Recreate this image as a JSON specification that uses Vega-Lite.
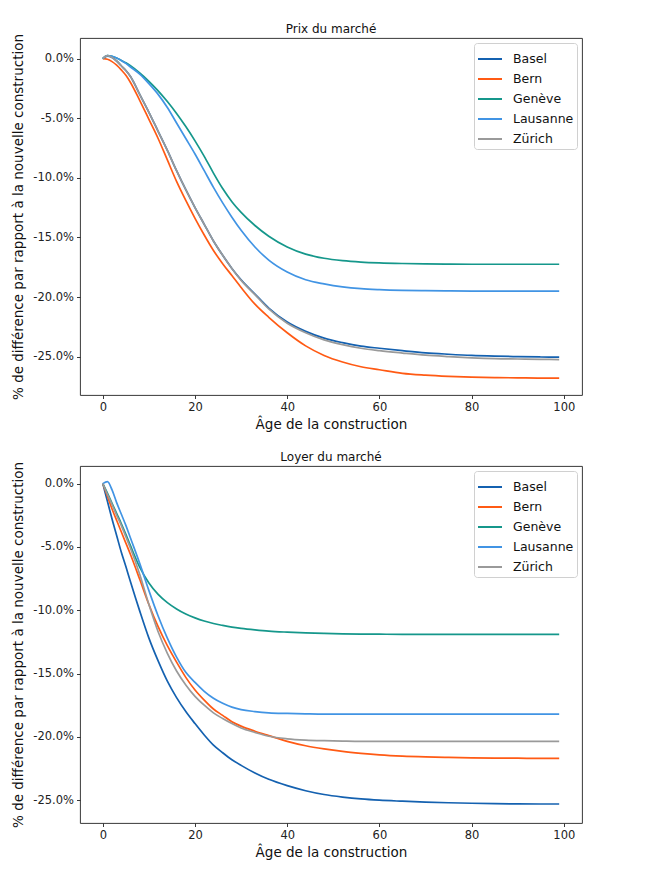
{
 "$schema": "https://vega.github.io/schema/vega-lite/v6.json",
 "background": "white",
 "padding": {"left": 11, "top": 22, "right": 5, "bottom": 5},
 "spacing": 71,
 "bounds": "flush",
 "datasets": {"d": [
{"panel":"Prix","ville":"Basel","age":0,"pct":0},{"panel":"Prix","ville":"Basel","age":1,"pct":0.2},{"panel":"Prix","ville":"Basel","age":2,"pct":0.1},{"panel":"Prix","ville":"Basel","age":3,"pct":-0.2},{"panel":"Prix","ville":"Basel","age":4,"pct":-0.6},{"panel":"Prix","ville":"Basel","age":5,"pct":-1.0},{"panel":"Prix","ville":"Basel","age":6,"pct":-1.5},{"panel":"Prix","ville":"Basel","age":8,"pct":-3.0},{"panel":"Prix","ville":"Basel","age":10,"pct":-4.5},{"panel":"Prix","ville":"Basel","age":12,"pct":-6.1},{"panel":"Prix","ville":"Basel","age":14,"pct":-7.7},{"panel":"Prix","ville":"Basel","age":16,"pct":-9.4},{"panel":"Prix","ville":"Basel","age":18,"pct":-11.0},{"panel":"Prix","ville":"Basel","age":20,"pct":-12.5},{"panel":"Prix","ville":"Basel","age":22,"pct":-13.9},{"panel":"Prix","ville":"Basel","age":24,"pct":-15.3},{"panel":"Prix","ville":"Basel","age":26,"pct":-16.5},{"panel":"Prix","ville":"Basel","age":28,"pct":-17.6},{"panel":"Prix","ville":"Basel","age":30,"pct":-18.55},{"panel":"Prix","ville":"Basel","age":33,"pct":-19.75},{"panel":"Prix","ville":"Basel","age":36,"pct":-20.93},{"panel":"Prix","ville":"Basel","age":40,"pct":-22.1},{"panel":"Prix","ville":"Basel","age":44,"pct":-22.88},{"panel":"Prix","ville":"Basel","age":48,"pct":-23.45},{"panel":"Prix","ville":"Basel","age":52,"pct":-23.83},{"panel":"Prix","ville":"Basel","age":56,"pct":-24.12},{"panel":"Prix","ville":"Basel","age":60,"pct":-24.3},{"panel":"Prix","ville":"Basel","age":65,"pct":-24.5},{"panel":"Prix","ville":"Basel","age":70,"pct":-24.68},{"panel":"Prix","ville":"Basel","age":75,"pct":-24.8},{"panel":"Prix","ville":"Basel","age":80,"pct":-24.9},{"panel":"Prix","ville":"Basel","age":85,"pct":-24.96},{"panel":"Prix","ville":"Basel","age":90,"pct":-25.0},{"panel":"Prix","ville":"Basel","age":95,"pct":-25.03},{"panel":"Prix","ville":"Basel","age":99,"pct":-25.05},
{"panel":"Prix","ville":"Bern","age":0,"pct":0},{"panel":"Prix","ville":"Bern","age":1,"pct":-0.05},{"panel":"Prix","ville":"Bern","age":2,"pct":-0.25},{"panel":"Prix","ville":"Bern","age":3,"pct":-0.55},{"panel":"Prix","ville":"Bern","age":4,"pct":-0.95},{"panel":"Prix","ville":"Bern","age":5,"pct":-1.4},{"panel":"Prix","ville":"Bern","age":6,"pct":-2.0},{"panel":"Prix","ville":"Bern","age":8,"pct":-3.5},{"panel":"Prix","ville":"Bern","age":10,"pct":-5.1},{"panel":"Prix","ville":"Bern","age":12,"pct":-6.7},{"panel":"Prix","ville":"Bern","age":14,"pct":-8.5},{"panel":"Prix","ville":"Bern","age":16,"pct":-10.3},{"panel":"Prix","ville":"Bern","age":18,"pct":-11.9},{"panel":"Prix","ville":"Bern","age":20,"pct":-13.4},{"panel":"Prix","ville":"Bern","age":22,"pct":-14.8},{"panel":"Prix","ville":"Bern","age":24,"pct":-16.1},{"panel":"Prix","ville":"Bern","age":26,"pct":-17.2},{"panel":"Prix","ville":"Bern","age":28,"pct":-18.2},{"panel":"Prix","ville":"Bern","age":30,"pct":-19.2},{"panel":"Prix","ville":"Bern","age":33,"pct":-20.6},{"panel":"Prix","ville":"Bern","age":36,"pct":-21.7},{"panel":"Prix","ville":"Bern","age":40,"pct":-23.0},{"panel":"Prix","ville":"Bern","age":44,"pct":-24.1},{"panel":"Prix","ville":"Bern","age":48,"pct":-24.9},{"panel":"Prix","ville":"Bern","age":52,"pct":-25.45},{"panel":"Prix","ville":"Bern","age":56,"pct":-25.85},{"panel":"Prix","ville":"Bern","age":60,"pct":-26.1},{"panel":"Prix","ville":"Bern","age":65,"pct":-26.4},{"panel":"Prix","ville":"Bern","age":70,"pct":-26.55},{"panel":"Prix","ville":"Bern","age":75,"pct":-26.65},{"panel":"Prix","ville":"Bern","age":80,"pct":-26.72},{"panel":"Prix","ville":"Bern","age":85,"pct":-26.76},{"panel":"Prix","ville":"Bern","age":90,"pct":-26.78},{"panel":"Prix","ville":"Bern","age":95,"pct":-26.8},{"panel":"Prix","ville":"Bern","age":99,"pct":-26.8},
{"panel":"Prix","ville":"Genève","age":0,"pct":0},{"panel":"Prix","ville":"Genève","age":1,"pct":0.25},{"panel":"Prix","ville":"Genève","age":2,"pct":0.2},{"panel":"Prix","ville":"Genève","age":3,"pct":0.05},{"panel":"Prix","ville":"Genève","age":4,"pct":-0.15},{"panel":"Prix","ville":"Genève","age":5,"pct":-0.35},{"panel":"Prix","ville":"Genève","age":6,"pct":-0.6},{"panel":"Prix","ville":"Genève","age":8,"pct":-1.2},{"panel":"Prix","ville":"Genève","age":10,"pct":-1.9},{"panel":"Prix","ville":"Genève","age":12,"pct":-2.7},{"panel":"Prix","ville":"Genève","age":14,"pct":-3.6},{"panel":"Prix","ville":"Genève","age":16,"pct":-4.6},{"panel":"Prix","ville":"Genève","age":18,"pct":-5.7},{"panel":"Prix","ville":"Genève","age":20,"pct":-6.9},{"panel":"Prix","ville":"Genève","age":22,"pct":-8.2},{"panel":"Prix","ville":"Genève","age":24,"pct":-9.6},{"panel":"Prix","ville":"Genève","age":26,"pct":-10.9},{"panel":"Prix","ville":"Genève","age":28,"pct":-12.0},{"panel":"Prix","ville":"Genève","age":30,"pct":-12.9},{"panel":"Prix","ville":"Genève","age":33,"pct":-14.0},{"panel":"Prix","ville":"Genève","age":36,"pct":-14.9},{"panel":"Prix","ville":"Genève","age":40,"pct":-15.8},{"panel":"Prix","ville":"Genève","age":44,"pct":-16.4},{"panel":"Prix","ville":"Genève","age":48,"pct":-16.75},{"panel":"Prix","ville":"Genève","age":52,"pct":-16.95},{"panel":"Prix","ville":"Genève","age":56,"pct":-17.07},{"panel":"Prix","ville":"Genève","age":60,"pct":-17.14},{"panel":"Prix","ville":"Genève","age":65,"pct":-17.19},{"panel":"Prix","ville":"Genève","age":70,"pct":-17.22},{"panel":"Prix","ville":"Genève","age":75,"pct":-17.24},{"panel":"Prix","ville":"Genève","age":80,"pct":-17.25},{"panel":"Prix","ville":"Genève","age":85,"pct":-17.25},{"panel":"Prix","ville":"Genève","age":90,"pct":-17.25},{"panel":"Prix","ville":"Genève","age":95,"pct":-17.25},{"panel":"Prix","ville":"Genève","age":99,"pct":-17.25},
{"panel":"Prix","ville":"Lausanne","age":0,"pct":0},{"panel":"Prix","ville":"Lausanne","age":1,"pct":0.25},{"panel":"Prix","ville":"Lausanne","age":2,"pct":0.2},{"panel":"Prix","ville":"Lausanne","age":3,"pct":0.05},{"panel":"Prix","ville":"Lausanne","age":4,"pct":-0.15},{"panel":"Prix","ville":"Lausanne","age":5,"pct":-0.4},{"panel":"Prix","ville":"Lausanne","age":6,"pct":-0.7},{"panel":"Prix","ville":"Lausanne","age":8,"pct":-1.3},{"panel":"Prix","ville":"Lausanne","age":10,"pct":-2.1},{"panel":"Prix","ville":"Lausanne","age":12,"pct":-3.0},{"panel":"Prix","ville":"Lausanne","age":14,"pct":-4.1},{"panel":"Prix","ville":"Lausanne","age":16,"pct":-5.4},{"panel":"Prix","ville":"Lausanne","age":18,"pct":-6.7},{"panel":"Prix","ville":"Lausanne","age":20,"pct":-8.0},{"panel":"Prix","ville":"Lausanne","age":22,"pct":-9.4},{"panel":"Prix","ville":"Lausanne","age":24,"pct":-10.8},{"panel":"Prix","ville":"Lausanne","age":26,"pct":-12.1},{"panel":"Prix","ville":"Lausanne","age":28,"pct":-13.3},{"panel":"Prix","ville":"Lausanne","age":30,"pct":-14.4},{"panel":"Prix","ville":"Lausanne","age":33,"pct":-15.8},{"panel":"Prix","ville":"Lausanne","age":36,"pct":-16.9},{"panel":"Prix","ville":"Lausanne","age":40,"pct":-17.9},{"panel":"Prix","ville":"Lausanne","age":44,"pct":-18.55},{"panel":"Prix","ville":"Lausanne","age":48,"pct":-18.9},{"panel":"Prix","ville":"Lausanne","age":52,"pct":-19.15},{"panel":"Prix","ville":"Lausanne","age":56,"pct":-19.3},{"panel":"Prix","ville":"Lausanne","age":60,"pct":-19.38},{"panel":"Prix","ville":"Lausanne","age":65,"pct":-19.44},{"panel":"Prix","ville":"Lausanne","age":70,"pct":-19.47},{"panel":"Prix","ville":"Lausanne","age":75,"pct":-19.49},{"panel":"Prix","ville":"Lausanne","age":80,"pct":-19.5},{"panel":"Prix","ville":"Lausanne","age":85,"pct":-19.5},{"panel":"Prix","ville":"Lausanne","age":90,"pct":-19.5},{"panel":"Prix","ville":"Lausanne","age":95,"pct":-19.5},{"panel":"Prix","ville":"Lausanne","age":99,"pct":-19.5},
{"panel":"Prix","ville":"Zürich","age":0,"pct":0},{"panel":"Prix","ville":"Zürich","age":1,"pct":0.25},{"panel":"Prix","ville":"Zürich","age":2,"pct":0.1},{"panel":"Prix","ville":"Zürich","age":3,"pct":-0.2},{"panel":"Prix","ville":"Zürich","age":4,"pct":-0.6},{"panel":"Prix","ville":"Zürich","age":5,"pct":-1.0},{"panel":"Prix","ville":"Zürich","age":6,"pct":-1.5},{"panel":"Prix","ville":"Zürich","age":8,"pct":-3.0},{"panel":"Prix","ville":"Zürich","age":10,"pct":-4.5},{"panel":"Prix","ville":"Zürich","age":12,"pct":-6.1},{"panel":"Prix","ville":"Zürich","age":14,"pct":-7.7},{"panel":"Prix","ville":"Zürich","age":16,"pct":-9.4},{"panel":"Prix","ville":"Zürich","age":18,"pct":-11.0},{"panel":"Prix","ville":"Zürich","age":20,"pct":-12.5},{"panel":"Prix","ville":"Zürich","age":22,"pct":-13.9},{"panel":"Prix","ville":"Zürich","age":24,"pct":-15.3},{"panel":"Prix","ville":"Zürich","age":26,"pct":-16.5},{"panel":"Prix","ville":"Zürich","age":28,"pct":-17.6},{"panel":"Prix","ville":"Zürich","age":30,"pct":-18.6},{"panel":"Prix","ville":"Zürich","age":33,"pct":-19.8},{"panel":"Prix","ville":"Zürich","age":36,"pct":-21.0},{"panel":"Prix","ville":"Zürich","age":40,"pct":-22.2},{"panel":"Prix","ville":"Zürich","age":44,"pct":-23.0},{"panel":"Prix","ville":"Zürich","age":48,"pct":-23.6},{"panel":"Prix","ville":"Zürich","age":52,"pct":-24.0},{"panel":"Prix","ville":"Zürich","age":56,"pct":-24.3},{"panel":"Prix","ville":"Zürich","age":60,"pct":-24.5},{"panel":"Prix","ville":"Zürich","age":65,"pct":-24.7},{"panel":"Prix","ville":"Zürich","age":70,"pct":-24.88},{"panel":"Prix","ville":"Zürich","age":75,"pct":-25.0},{"panel":"Prix","ville":"Zürich","age":80,"pct":-25.1},{"panel":"Prix","ville":"Zürich","age":85,"pct":-25.17},{"panel":"Prix","ville":"Zürich","age":90,"pct":-25.2},{"panel":"Prix","ville":"Zürich","age":95,"pct":-25.23},{"panel":"Prix","ville":"Zürich","age":99,"pct":-25.25},
{"panel":"Loyer","ville":"Basel","age":0,"pct":0},{"panel":"Loyer","ville":"Basel","age":1,"pct":-1.4},{"panel":"Loyer","ville":"Basel","age":2,"pct":-2.8},{"panel":"Loyer","ville":"Basel","age":3,"pct":-4.1},{"panel":"Loyer","ville":"Basel","age":4,"pct":-5.4},{"panel":"Loyer","ville":"Basel","age":5,"pct":-6.55},{"panel":"Loyer","ville":"Basel","age":6,"pct":-7.75},{"panel":"Loyer","ville":"Basel","age":8,"pct":-10.05},{"panel":"Loyer","ville":"Basel","age":10,"pct":-12.2},{"panel":"Loyer","ville":"Basel","age":12,"pct":-14.0},{"panel":"Loyer","ville":"Basel","age":14,"pct":-15.6},{"panel":"Loyer","ville":"Basel","age":16,"pct":-16.9},{"panel":"Loyer","ville":"Basel","age":18,"pct":-18.0},{"panel":"Loyer","ville":"Basel","age":20,"pct":-18.95},{"panel":"Loyer","ville":"Basel","age":22,"pct":-19.85},{"panel":"Loyer","ville":"Basel","age":24,"pct":-20.65},{"panel":"Loyer","ville":"Basel","age":26,"pct":-21.25},{"panel":"Loyer","ville":"Basel","age":28,"pct":-21.8},{"panel":"Loyer","ville":"Basel","age":30,"pct":-22.25},{"panel":"Loyer","ville":"Basel","age":33,"pct":-22.85},{"panel":"Loyer","ville":"Basel","age":36,"pct":-23.35},{"panel":"Loyer","ville":"Basel","age":40,"pct":-23.85},{"panel":"Loyer","ville":"Basel","age":44,"pct":-24.25},{"panel":"Loyer","ville":"Basel","age":48,"pct":-24.55},{"panel":"Loyer","ville":"Basel","age":52,"pct":-24.75},{"panel":"Loyer","ville":"Basel","age":56,"pct":-24.9},{"panel":"Loyer","ville":"Basel","age":60,"pct":-25.0},{"panel":"Loyer","ville":"Basel","age":65,"pct":-25.08},{"panel":"Loyer","ville":"Basel","age":70,"pct":-25.15},{"panel":"Loyer","ville":"Basel","age":75,"pct":-25.2},{"panel":"Loyer","ville":"Basel","age":80,"pct":-25.24},{"panel":"Loyer","ville":"Basel","age":85,"pct":-25.27},{"panel":"Loyer","ville":"Basel","age":90,"pct":-25.29},{"panel":"Loyer","ville":"Basel","age":95,"pct":-25.3},{"panel":"Loyer","ville":"Basel","age":99,"pct":-25.3},
{"panel":"Loyer","ville":"Bern","age":0,"pct":0},{"panel":"Loyer","ville":"Bern","age":1,"pct":-1.0},{"panel":"Loyer","ville":"Bern","age":2,"pct":-2.0},{"panel":"Loyer","ville":"Bern","age":3,"pct":-2.9},{"panel":"Loyer","ville":"Bern","age":4,"pct":-3.8},{"panel":"Loyer","ville":"Bern","age":5,"pct":-4.7},{"panel":"Loyer","ville":"Bern","age":6,"pct":-5.6},{"panel":"Loyer","ville":"Bern","age":8,"pct":-7.55},{"panel":"Loyer","ville":"Bern","age":10,"pct":-9.55},{"panel":"Loyer","ville":"Bern","age":12,"pct":-11.3},{"panel":"Loyer","ville":"Bern","age":14,"pct":-12.8},{"panel":"Loyer","ville":"Bern","age":16,"pct":-14.1},{"panel":"Loyer","ville":"Bern","age":18,"pct":-15.3},{"panel":"Loyer","ville":"Bern","age":20,"pct":-16.3},{"panel":"Loyer","ville":"Bern","age":22,"pct":-17.1},{"panel":"Loyer","ville":"Bern","age":24,"pct":-17.8},{"panel":"Loyer","ville":"Bern","age":26,"pct":-18.3},{"panel":"Loyer","ville":"Bern","age":28,"pct":-18.8},{"panel":"Loyer","ville":"Bern","age":30,"pct":-19.15},{"panel":"Loyer","ville":"Bern","age":33,"pct":-19.55},{"panel":"Loyer","ville":"Bern","age":36,"pct":-19.9},{"panel":"Loyer","ville":"Bern","age":40,"pct":-20.35},{"panel":"Loyer","ville":"Bern","age":44,"pct":-20.7},{"panel":"Loyer","ville":"Bern","age":48,"pct":-20.95},{"panel":"Loyer","ville":"Bern","age":52,"pct":-21.15},{"panel":"Loyer","ville":"Bern","age":56,"pct":-21.3},{"panel":"Loyer","ville":"Bern","age":60,"pct":-21.42},{"panel":"Loyer","ville":"Bern","age":65,"pct":-21.52},{"panel":"Loyer","ville":"Bern","age":70,"pct":-21.58},{"panel":"Loyer","ville":"Bern","age":75,"pct":-21.62},{"panel":"Loyer","ville":"Bern","age":80,"pct":-21.65},{"panel":"Loyer","ville":"Bern","age":85,"pct":-21.67},{"panel":"Loyer","ville":"Bern","age":90,"pct":-21.68},{"panel":"Loyer","ville":"Bern","age":95,"pct":-21.7},{"panel":"Loyer","ville":"Bern","age":99,"pct":-21.7},
{"panel":"Loyer","ville":"Genève","age":0,"pct":0},{"panel":"Loyer","ville":"Genève","age":1,"pct":-0.75},{"panel":"Loyer","ville":"Genève","age":2,"pct":-1.55},{"panel":"Loyer","ville":"Genève","age":3,"pct":-2.35},{"panel":"Loyer","ville":"Genève","age":4,"pct":-3.15},{"panel":"Loyer","ville":"Genève","age":5,"pct":-4.0},{"panel":"Loyer","ville":"Genève","age":6,"pct":-4.9},{"panel":"Loyer","ville":"Genève","age":8,"pct":-6.6},{"panel":"Loyer","ville":"Genève","age":10,"pct":-7.85},{"panel":"Loyer","ville":"Genève","age":12,"pct":-8.75},{"panel":"Loyer","ville":"Genève","age":14,"pct":-9.4},{"panel":"Loyer","ville":"Genève","age":16,"pct":-9.9},{"panel":"Loyer","ville":"Genève","age":18,"pct":-10.3},{"panel":"Loyer","ville":"Genève","age":20,"pct":-10.6},{"panel":"Loyer","ville":"Genève","age":22,"pct":-10.85},{"panel":"Loyer","ville":"Genève","age":24,"pct":-11.05},{"panel":"Loyer","ville":"Genève","age":26,"pct":-11.2},{"panel":"Loyer","ville":"Genève","age":28,"pct":-11.33},{"panel":"Loyer","ville":"Genève","age":30,"pct":-11.43},{"panel":"Loyer","ville":"Genève","age":33,"pct":-11.55},{"panel":"Loyer","ville":"Genève","age":36,"pct":-11.65},{"panel":"Loyer","ville":"Genève","age":40,"pct":-11.73},{"panel":"Loyer","ville":"Genève","age":44,"pct":-11.79},{"panel":"Loyer","ville":"Genève","age":48,"pct":-11.83},{"panel":"Loyer","ville":"Genève","age":52,"pct":-11.86},{"panel":"Loyer","ville":"Genève","age":56,"pct":-11.88},{"panel":"Loyer","ville":"Genève","age":60,"pct":-11.89},{"panel":"Loyer","ville":"Genève","age":65,"pct":-11.9},{"panel":"Loyer","ville":"Genève","age":70,"pct":-11.9},{"panel":"Loyer","ville":"Genève","age":75,"pct":-11.9},{"panel":"Loyer","ville":"Genève","age":80,"pct":-11.9},{"panel":"Loyer","ville":"Genève","age":85,"pct":-11.9},{"panel":"Loyer","ville":"Genève","age":90,"pct":-11.9},{"panel":"Loyer","ville":"Genève","age":95,"pct":-11.9},{"panel":"Loyer","ville":"Genève","age":99,"pct":-11.9},
{"panel":"Loyer","ville":"Lausanne","age":0,"pct":0},{"panel":"Loyer","ville":"Lausanne","age":1,"pct":0.15},{"panel":"Loyer","ville":"Lausanne","age":2,"pct":-0.5},{"panel":"Loyer","ville":"Lausanne","age":3,"pct":-1.5},{"panel":"Loyer","ville":"Lausanne","age":4,"pct":-2.4},{"panel":"Loyer","ville":"Lausanne","age":5,"pct":-3.3},{"panel":"Loyer","ville":"Lausanne","age":6,"pct":-4.3},{"panel":"Loyer","ville":"Lausanne","age":8,"pct":-6.3},{"panel":"Loyer","ville":"Lausanne","age":10,"pct":-8.45},{"panel":"Loyer","ville":"Lausanne","age":12,"pct":-10.45},{"panel":"Loyer","ville":"Lausanne","age":14,"pct":-12.2},{"panel":"Loyer","ville":"Lausanne","age":16,"pct":-13.7},{"panel":"Loyer","ville":"Lausanne","age":18,"pct":-14.9},{"panel":"Loyer","ville":"Lausanne","age":20,"pct":-15.7},{"panel":"Loyer","ville":"Lausanne","age":22,"pct":-16.4},{"panel":"Loyer","ville":"Lausanne","age":24,"pct":-16.95},{"panel":"Loyer","ville":"Lausanne","age":26,"pct":-17.35},{"panel":"Loyer","ville":"Lausanne","age":28,"pct":-17.65},{"panel":"Loyer","ville":"Lausanne","age":30,"pct":-17.85},{"panel":"Loyer","ville":"Lausanne","age":33,"pct":-18.0},{"panel":"Loyer","ville":"Lausanne","age":36,"pct":-18.1},{"panel":"Loyer","ville":"Lausanne","age":40,"pct":-18.15},{"panel":"Loyer","ville":"Lausanne","age":44,"pct":-18.18},{"panel":"Loyer","ville":"Lausanne","age":48,"pct":-18.2},{"panel":"Loyer","ville":"Lausanne","age":52,"pct":-18.2},{"panel":"Loyer","ville":"Lausanne","age":56,"pct":-18.2},{"panel":"Loyer","ville":"Lausanne","age":60,"pct":-18.2},{"panel":"Loyer","ville":"Lausanne","age":65,"pct":-18.2},{"panel":"Loyer","ville":"Lausanne","age":70,"pct":-18.2},{"panel":"Loyer","ville":"Lausanne","age":75,"pct":-18.2},{"panel":"Loyer","ville":"Lausanne","age":80,"pct":-18.2},{"panel":"Loyer","ville":"Lausanne","age":85,"pct":-18.2},{"panel":"Loyer","ville":"Lausanne","age":90,"pct":-18.2},{"panel":"Loyer","ville":"Lausanne","age":95,"pct":-18.2},{"panel":"Loyer","ville":"Lausanne","age":99,"pct":-18.2},
{"panel":"Loyer","ville":"Zürich","age":0,"pct":0},{"panel":"Loyer","ville":"Zürich","age":1,"pct":-0.85},{"panel":"Loyer","ville":"Zürich","age":2,"pct":-1.65},{"panel":"Loyer","ville":"Zürich","age":3,"pct":-2.5},{"panel":"Loyer","ville":"Zürich","age":4,"pct":-3.3},{"panel":"Loyer","ville":"Zürich","age":5,"pct":-4.2},{"panel":"Loyer","ville":"Zürich","age":6,"pct":-5.1},{"panel":"Loyer","ville":"Zürich","age":8,"pct":-7.15},{"panel":"Loyer","ville":"Zürich","age":10,"pct":-9.55},{"panel":"Loyer","ville":"Zürich","age":12,"pct":-11.7},{"panel":"Loyer","ville":"Zürich","age":14,"pct":-13.4},{"panel":"Loyer","ville":"Zürich","age":16,"pct":-14.8},{"panel":"Loyer","ville":"Zürich","age":18,"pct":-15.9},{"panel":"Loyer","ville":"Zürich","age":20,"pct":-16.8},{"panel":"Loyer","ville":"Zürich","age":22,"pct":-17.5},{"panel":"Loyer","ville":"Zürich","age":24,"pct":-18.1},{"panel":"Loyer","ville":"Zürich","age":26,"pct":-18.55},{"panel":"Loyer","ville":"Zürich","age":28,"pct":-18.95},{"panel":"Loyer","ville":"Zürich","age":30,"pct":-19.3},{"panel":"Loyer","ville":"Zürich","age":33,"pct":-19.65},{"panel":"Loyer","ville":"Zürich","age":36,"pct":-19.95},{"panel":"Loyer","ville":"Zürich","age":40,"pct":-20.15},{"panel":"Loyer","ville":"Zürich","age":44,"pct":-20.25},{"panel":"Loyer","ville":"Zürich","age":48,"pct":-20.3},{"panel":"Loyer","ville":"Zürich","age":52,"pct":-20.33},{"panel":"Loyer","ville":"Zürich","age":56,"pct":-20.35},{"panel":"Loyer","ville":"Zürich","age":60,"pct":-20.35},{"panel":"Loyer","ville":"Zürich","age":65,"pct":-20.35},{"panel":"Loyer","ville":"Zürich","age":70,"pct":-20.35},{"panel":"Loyer","ville":"Zürich","age":75,"pct":-20.35},{"panel":"Loyer","ville":"Zürich","age":80,"pct":-20.35},{"panel":"Loyer","ville":"Zürich","age":85,"pct":-20.35},{"panel":"Loyer","ville":"Zürich","age":90,"pct":-20.35},{"panel":"Loyer","ville":"Zürich","age":95,"pct":-20.35},{"panel":"Loyer","ville":"Zürich","age":99,"pct":-20.35}
 ]},
 "vconcat": [
  {
   "width": 502, "height": 357,
   "title": "Prix du marché",
   "data": {"name": "d"},
   "transform": [{"filter": "datum.panel === 'Prix'"}],
   "mark": {"type": "line", "strokeWidth": 1.7, "interpolate": "monotone"},
   "encoding": {
    "x": {"field": "age", "type": "quantitative", "scale": {"domain": [-4.95, 103.95], "nice": false, "zero": false}, "axis": {"values": [0, 20, 40, 60, 80, 100], "title": "Âge de la construction"}},
    "y": {"field": "pct", "type": "quantitative", "scale": {"domain": [-28.22, 1.73], "nice": false, "zero": false}, "axis": {"values": [-25, -20, -15, -10, -5, 0], "labelExpr": "(datum.value < 0 ? '-' : '') + format(abs(datum.value), '.1f') + '%'", "title": "% de différence par rapport à la nouvelle construction"}},
    "color": {"field": "ville", "type": "nominal", "scale": {"domain": ["Basel", "Bern", "Genève", "Lausanne", "Zürich"], "range": ["#1461b0", "#ff5a14", "#15978b", "#4194e4", "#9a9a9a"]}, "legend": {"title": null}}
   }
  },
  {
   "width": 502, "height": 357,
   "title": "Loyer du marché",
   "data": {"name": "d"},
   "transform": [{"filter": "datum.panel === 'Loyer'"}],
   "mark": {"type": "line", "strokeWidth": 1.7, "interpolate": "monotone"},
   "encoding": {
    "x": {"field": "age", "type": "quantitative", "scale": {"domain": [-4.95, 103.95], "nice": false, "zero": false}, "axis": {"values": [0, 20, 40, 60, 80, 100], "title": "Âge de la construction"}},
    "y": {"field": "pct", "type": "quantitative", "scale": {"domain": [-26.8, 1.39], "nice": false, "zero": false}, "axis": {"values": [-25, -20, -15, -10, -5, 0], "labelExpr": "(datum.value < 0 ? '-' : '') + format(abs(datum.value), '.1f') + '%'", "title": "% de différence par rapport à la nouvelle construction"}},
    "color": {"field": "ville", "type": "nominal", "scale": {"domain": ["Basel", "Bern", "Genève", "Lausanne", "Zürich"], "range": ["#1461b0", "#ff5a14", "#15978b", "#4194e4", "#9a9a9a"]}, "legend": {"title": null}}
   }
  }
 ],
 "resolve": {"scale": {"color": "independent"}, "legend": {"color": "independent"}},
 "config": {
  "font": "DejaVu Sans",
  "view": {"stroke": "#222222", "strokeWidth": 0.9},
  "axis": {"grid": false, "domain": false, "tickColor": "#222222", "tickSize": 3.5, "tickWidth": 0.9, "labelFontSize": 11.5, "labelColor": "#222222", "labelPadding": 3, "titleFontSize": 13.5, "titleFontWeight": "normal", "titleColor": "#111111", "labelFont": "DejaVu Sans", "titleFont": "DejaVu Sans"},
  "axisX": {"titlePadding": 4},
  "axisY": {"titlePadding": 7},
  "title": {"fontSize": 12, "fontWeight": "normal", "offset": -2, "color": "#111111", "font": "DejaVu Sans"},
  "legend": {"orient": "top-right", "offset": 5, "symbolType": "stroke", "symbolSize": 576, "symbolStrokeWidth": 2, "labelFontSize": 12.5, "labelColor": "#111111", "labelFont": "DejaVu Sans", "padding": 3, "strokeColor": "#d0d0d0", "fillColor": "white", "cornerRadius": 3, "rowPadding": -1, "labelOffset": 10}
 }
}
